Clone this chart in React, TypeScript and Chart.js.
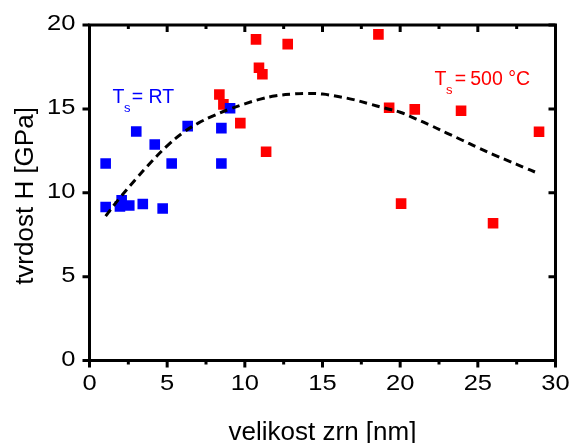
import React, { useEffect, useRef } from "react";
import { Chart, registerables } from "chart.js";

Chart.register(...registerables);

// Blue series: T_s = RT  [grain size nm, hardness GPa]
const blueX = [1.04, 1.04, 1.96, 2.07, 2.56, 3.43, 4.71, 3.01, 4.2, 5.29, 6.32, 8.49, 8.49, 9.05];
const blueY = [11.74, 9.15, 9.19, 9.55, 9.24, 9.33, 9.06, 13.65, 12.88, 11.74, 13.97, 13.85, 11.74, 15.04];

// Red series: T_s = 500 °C
const redX = [10.72, 12.76, 18.6, 10.91, 11.13, 8.36, 8.62, 9.71, 11.37, 19.29, 20.94, 23.92, 28.94, 20.06, 25.98];
const redY = [19.14, 18.86, 19.44, 17.45, 17.06, 15.86, 15.27, 14.15, 12.44, 15.07, 14.97, 14.89, 13.64, 9.35, 8.18];

// Dashed fit curve (sampled)
const fitX = [1.04, 2, 3, 4, 5, 6, 7, 8, 9, 10, 11, 12, 13, 14, 15, 16, 17, 18, 19, 20, 21, 22, 23, 24, 25, 26, 27, 28, 28.8];
const fitY = [8.61, 9.75, 10.83, 11.86, 12.8, 13.57, 14.15, 14.6, 14.98, 15.3, 15.58, 15.78, 15.88, 15.92, 15.88, 15.74, 15.55, 15.3, 15.05, 14.8, 14.41, 14.0, 13.56, 13.13, 12.69, 12.28, 11.89, 11.5, 11.19];

const xTickLabels = ["0", "5", "10", "15", "20", "25", "30"];
const yTickLabels = ["0", "5", "10", "15", "20"];
const xMin = 0, xMax = 30, xStep = 5, xMinorStep = 2.5;
const yMin = 0, yMax = 20, yStep = 5;

const xTitle = "velikost zrn [nm]";
const yTitle = "tvrdost H [GPa]";

const FONT = "'Liberation Sans', Arial, Helvetica, sans-serif";

const framePlugin = {
  id: "frame",
  afterDatasetsDraw(chart: any) {
    const { ctx, chartArea: a, scales } = chart;
    const xs = scales.x, ys = scales.y;
    ctx.save();
    ctx.strokeStyle = "#000";
    ctx.lineWidth = 3;
    ctx.lineCap = "butt";
    ctx.beginPath();
    ctx.rect(a.left, a.top, a.right - a.left, a.bottom - a.top);
    ctx.stroke();
    ctx.beginPath();
    // x ticks
    for (let v = xMin; v <= xMax + 1e-9; v += xMinorStep) {
      const px = xs.getPixelForValue(v);
      const major = Math.abs(v / xStep - Math.round(v / xStep)) < 1e-6;
      const len = major ? 7 : 4;
      ctx.moveTo(px, a.bottom);
      ctx.lineTo(px, a.bottom + len);
      ctx.moveTo(px, a.top);
      ctx.lineTo(px, a.top + len);
    }
    // y ticks
    for (let v = yMin; v <= yMax + 1e-9; v += yStep) {
      const py = ys.getPixelForValue(v);
      ctx.moveTo(a.left, py);
      ctx.lineTo(a.left - 7, py);
      ctx.moveTo(a.right, py);
      ctx.lineTo(a.right - 7, py);
    }
    ctx.stroke();

    // tick labels (slightly wide face)
    ctx.fillStyle = "#000";
    ctx.font = `22px ${FONT}`;
    ctx.textBaseline = "middle";
    const sx = 1.16;
    xTickLabels.forEach((t, i) => {
      const px = xs.getPixelForValue(xMin + i * xStep);
      ctx.save();
      ctx.translate(px, 384);
      ctx.scale(sx, 1);
      ctx.textAlign = "center";
      ctx.fillText(t, 0, 0);
      ctx.restore();
    });
    yTickLabels.forEach((t, i) => {
      const py = ys.getPixelForValue(yMin + i * yStep);
      ctx.save();
      ctx.translate(a.left - 14, py - 1);
      ctx.scale(sx, 1);
      ctx.textAlign = "right";
      ctx.fillText(t, 0, 0);
      ctx.restore();
    });

    // axis titles
    ctx.font = `26px ${FONT}`;
    ctx.textAlign = "center";
    ctx.textBaseline = "alphabetic";
    ctx.fillText(xTitle, (a.left + a.right) / 2, 440);
    ctx.save();
    ctx.translate(33, 196);
    ctx.rotate(-Math.PI / 2);
    ctx.fillText(yTitle, 0, 0);
    ctx.restore();

    // series labels
    const drawLabel = (color: string, tx: number, by: number, eqx: number, rest: string, rx: number) => {
      ctx.fillStyle = color;
      ctx.textAlign = "left";
      ctx.textBaseline = "alphabetic";
      ctx.font = `19.5px ${FONT}`;
      ctx.fillText("T", tx, by);
      const tw = ctx.measureText("T").width;
      ctx.fillText("=", eqx, by);
      ctx.fillText(rest, rx, by);
      ctx.font = `13px ${FONT}`;
      ctx.fillText("s", tx + tw - 0.5, by + 8.5);
    };
    drawLabel("#0000ff", 112.5, 103, 131.8, "RT", 148.5);
    drawLabel("#ff0000", 434.5, 85, 454.8, "500 °C", 470.2);
    ctx.restore();
  },
};

export default function App() {
  const ref = useRef<HTMLCanvasElement>(null);
  useEffect(() => {
    document.body.style.margin = "0";
    const blue = blueX.map((x, i) => ({ x, y: blueY[i] }));
    const red = redX.map((x, i) => ({ x, y: redY[i] }));
    const fit = fitX.map((x, i) => ({ x, y: fitY[i] }));
    const chart = new Chart(ref.current as HTMLCanvasElement, {
      type: "scatter",
      data: {
        datasets: [
          {
            type: "line",
            data: fit,
            borderColor: "#000",
            borderWidth: 3,
            borderDash: [8, 5],
            pointRadius: 0,
            tension: 0.4,
            fill: false,
            order: 0,
          } as any,
          {
            data: blue,
            pointStyle: "rect",
            pointRadius: 7.5,
            backgroundColor: "#0000ff",
            borderColor: "#0000ff",
            borderWidth: 0,
            order: 1,
          },
          {
            data: red,
            pointStyle: "rect",
            pointRadius: 7.5,
            backgroundColor: "#ff0000",
            borderColor: "#ff0000",
            borderWidth: 0,
            order: 2,
          },
        ],
      },
      options: {
        animation: false,
        responsive: false,
        maintainAspectRatio: false,
        layout: { padding: { top: 25, right: 15.5, left: 89.5, bottom: 82.5 } },
        plugins: { legend: { display: false }, tooltip: { enabled: false } },
        scales: {
          x: { type: "linear", display: false, min: xMin, max: xMax },
          y: { type: "linear", display: false, min: yMin, max: yMax },
        },
      },
      plugins: [framePlugin],
    });
    return () => chart.destroy();
  }, []);
  return (
    <div style={{ position: "absolute", left: 0, top: 0, width: 571, height: 443 }}>
      <canvas ref={ref} width={571} height={443} style={{ width: 571, height: 443 }} />
    </div>
  );
}
